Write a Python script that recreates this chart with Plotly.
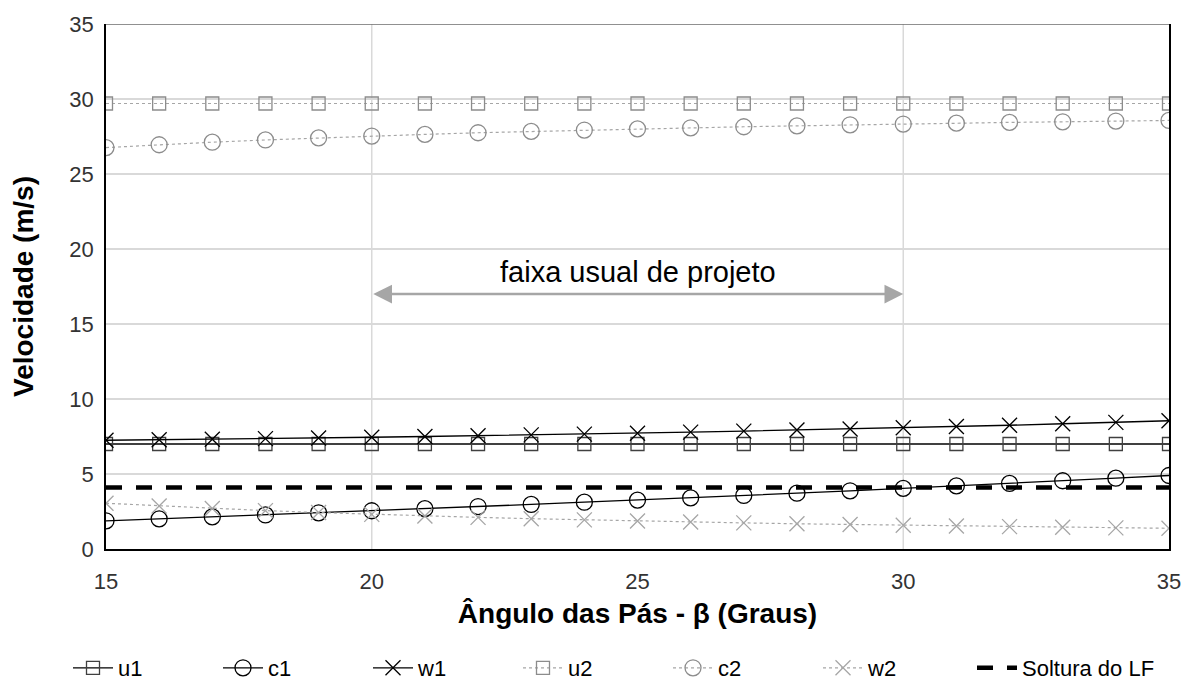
import plotly.graph_objects as go

beta = [15, 16, 17, 18, 19, 20, 21, 22, 23, 24, 25, 26, 27, 28, 29, 30, 31, 32, 33, 34, 35]
u1 = [7.0] * 21
c1 = [1.88, 2.01, 2.14, 2.27, 2.41, 2.55, 2.69, 2.83, 2.97, 3.12, 3.26, 3.41, 3.57, 3.72, 3.88, 4.04, 4.21, 4.37, 4.55, 4.72, 4.90]
w1 = [7.25, 7.28, 7.32, 7.36, 7.40, 7.45, 7.50, 7.55, 7.61, 7.66, 7.72, 7.79, 7.86, 7.93, 8.00, 8.08, 8.17, 8.25, 8.35, 8.44, 8.55]
u2 = [29.7] * 21
c2 = [26.76, 26.95, 27.12, 27.27, 27.41, 27.53, 27.64, 27.75, 27.84, 27.93, 28.01, 28.08, 28.15, 28.21, 28.28, 28.33, 28.39, 28.44, 28.48, 28.53, 28.57]
w2 = [3.05, 2.87, 2.70, 2.56, 2.43, 2.31, 2.20, 2.11, 2.02, 1.94, 1.87, 1.80, 1.74, 1.68, 1.63, 1.58, 1.53, 1.49, 1.45, 1.41, 1.38]
soltura = [4.1] * 21

FONT = "Liberation Sans, Arial, sans-serif"
fig = go.Figure()

dark = "#000000"
mdark = "#404040"
gline = "#a6a6a6"
gmark = "#8c8c8c"

def add(name, y, sym, lcolor, mcolor, dash, lw, msize):
    fig.add_trace(go.Scatter(
        x=beta, y=y, name=name, mode="lines+markers", legend="legend",
        line=dict(color=lcolor, width=lw, dash=dash),
        marker=dict(symbol=sym, size=msize, color=mcolor,
                    line=dict(color=mcolor, width=1.3)),
    ))

add("u1", u1, "square-open", dark, mdark, "solid", 1.3, 13)
add("c1", c1, "circle-open", dark, dark, "solid", 1.3, 16)
add("w1", w1, "x-thin-open", dark, dark, "solid", 1.3, 15)
add("u2", u2, "square-open", gline, gmark, "dot", 1.2, 13)
add("c2", c2, "circle-open", gline, gmark, "dot", 1.2, 16)
add("w2", w2, "x-thin-open", gline, gline, "dot", 1.2, 15)
fig.add_trace(go.Scatter(
    x=beta, y=soltura, name="Soltura do LF", mode="lines", legend="legend2",
    line=dict(color="black", width=4.5, dash="16px,14px"),
))

grid = "#d9d9d9"
for xv in [20, 30]:
    fig.add_shape(type="line", xref="x", yref="y", x0=xv, x1=xv, y0=0, y1=35,
                  line=dict(color=grid, width=1.5), layer="below")
fig.add_shape(type="line", xref="paper", yref="y", x0=0, x1=1, y0=35, y1=35,
              line=dict(color="#6b6b6b", width=1.5), layer="above")

fig.add_annotation(x=30, y=17, ax=20, ay=17, xref="x", yref="y", axref="x", ayref="y",
                   text="", showarrow=True, arrowhead=2, startarrowhead=2,
                   arrowside="end+start", arrowwidth=2.5, arrowsize=1.5, startarrowsize=1.5,
                   arrowcolor="#a6a6a6")
fig.add_annotation(x=25, y=18.5, xref="x", yref="y", text="faixa usual de projeto",
                   showarrow=False, font=dict(family=FONT, size=29, color="black"))

legfont = dict(family=FONT, size=22, color="black")
fig.update_layout(
    width=1196, height=682,
    margin=dict(l=106, r=27, t=21, b=133),
    plot_bgcolor="white", paper_bgcolor="white",
    font=dict(family=FONT, size=22, color="#333333"),
    showlegend=True,
    legend=dict(orientation="h", xref="container", yref="container",
                x=68 / 1196, xanchor="left", y=14 / 682, yanchor="middle",
                font=legfont, itemwidth=40, entrywidth=95, traceorder="normal"),
    legend2=dict(orientation="h", xref="container", yref="container",
                 x=972 / 1196, xanchor="left", y=14 / 682, yanchor="middle",
                 font=legfont, itemwidth=40),
    xaxis=dict(range=[15, 35], tickvals=[15, 20, 25, 30, 35], showgrid=False,
               showline=True, linecolor="black", linewidth=1.5,
               ticks="outside", ticklen=12, tickcolor="rgba(0,0,0,0)",
               zeroline=False,
               title=dict(text="<b>Ângulo das Pás - β (Graus)</b>",
                          font=dict(family=FONT, size=28, color="black"), standoff=10),
               tickfont=dict(family=FONT, size=22, color="#333333")),
    yaxis=dict(range=[0, 35], tickvals=[0, 5, 10, 15, 20, 25, 30, 35], showgrid=True,
               gridcolor=grid, gridwidth=1.5, showline=True, linecolor="black",
               linewidth=1.5, mirror=True, zeroline=False,
               ticks="outside", ticklen=6, tickcolor="rgba(0,0,0,0)",
               title=dict(text="<b>Velocidade (m/s)</b>",
                          font=dict(family=FONT, size=28, color="black"), standoff=28),
               tickfont=dict(family=FONT, size=22, color="#333333")),
)

fig.write_html("out.html")
